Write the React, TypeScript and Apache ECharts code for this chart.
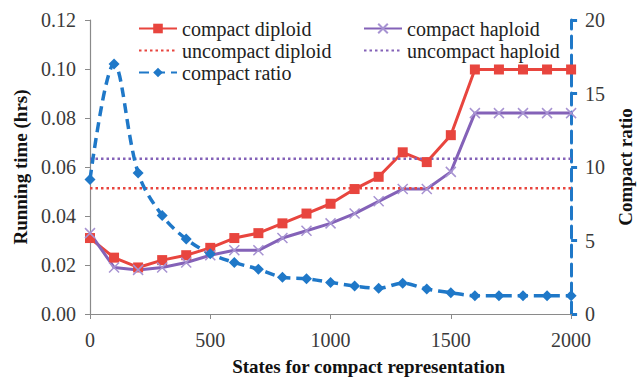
import React, { useEffect, useRef } from "react";
import * as echarts from "echarts";

const states = [0, 100, 200, 300, 400, 500, 600, 700, 800, 900, 1000, 1100, 1200, 1300, 1400, 1500, 1600, 1700, 1800, 1900, 2000];
const compactDiploid = [0.031, 0.023, 0.019, 0.022, 0.024, 0.027, 0.031, 0.033, 0.037, 0.041, 0.045, 0.051, 0.056, 0.066, 0.062, 0.073, 0.0998, 0.0998, 0.0998, 0.0998, 0.0998];
const compactHaploid = [0.033, 0.019, 0.018, 0.019, 0.021, 0.024, 0.026, 0.026, 0.031, 0.034, 0.037, 0.041, 0.046, 0.051, 0.051, 0.058, 0.082, 0.082, 0.082, 0.082, 0.082];
const compactRatio = [9.15, 17.0, 9.6, 6.7, 5.1, 4.1, 3.5, 3.05, 2.5, 2.4, 2.15, 1.9, 1.75, 2.1, 1.7, 1.45, 1.25, 1.25, 1.25, 1.25, 1.25];
const uncompactDiploid = 0.0513;
const uncompactHaploid = 0.0634;
const xRange = [0, 2000];

const RED = "#E8453E";
const PURPLE = "#8462B8";
const BLUE = "#1F78C8";
const FONT = "Liberation Serif";

export default function App() {
  const ref = useRef<HTMLDivElement>(null);
  useEffect(() => {
    const chart = echarts.init(ref.current!, null, { renderer: "svg" });
    const pair = (ys: number[]) => states.map((x, i) => [x, ys[i]]);
    const flat = (v: number) => xRange.map((x) => [x, v]);
    const axisLabel = { fontFamily: FONT, fontSize: 20, color: "#3a3a3a" };
    const titleStyle = { fontFamily: FONT, fontSize: 19, fontWeight: "bold" as const, color: "#111" };
    const legendText = { fontFamily: FONT, fontSize: 20, color: "#222", lineHeight: 21 };
    chart.setOption({
      animation: false,
      backgroundColor: "#fff",
      textStyle: { fontFamily: FONT },
      grid: { left: 90, right: 63, top: 20, bottom: 66 },
      legend: [
        {
          orient: "vertical",
          left: 133,
          top: 13,
          itemWidth: 38,
          itemHeight: 12,
          itemGap: 1,
          textStyle: legendText,
          data: ["compact diploid", "uncompact diploid", "compact ratio"],
        },
        {
          orient: "vertical",
          left: 358,
          top: 13,
          itemWidth: 38,
          itemHeight: 12,
          itemGap: 1,
          textStyle: legendText,
          data: ["compact haploid", "uncompact haploid"],
        },
      ],
      xAxis: {
        type: "value",
        min: 0,
        max: 2000,
        interval: 500,
        name: "States for compact representation",
        nameLocation: "middle",
        nameGap: 43,
        nameTextStyle: { ...titleStyle, padding: [0, 0, 0, 76] },
        axisLine: { lineStyle: { color: "#8a8a8a", width: 1.2 } },
        axisTick: { show: true, length: 5, lineStyle: { color: "#8a8a8a" } },
        axisLabel: { ...axisLabel, margin: 16, formatter: (v: number) => String(v) },
        splitLine: { show: false },
      },
      yAxis: [
        {
          type: "value",
          min: 0,
          max: 0.12,
          interval: 0.02,
          name: "Running time (hrs)",
          nameLocation: "middle",
          nameGap: 57,
          nameTextStyle: titleStyle,
          axisLine: { show: true, lineStyle: { color: "#8a8a8a", width: 1.2 } },
          axisTick: { show: true, length: 5, lineStyle: { color: "#8a8a8a" } },
          axisLabel: { ...axisLabel, margin: 14, formatter: (v: number) => v.toFixed(2) },
          splitLine: { show: false },
        },
        {
          type: "value",
          min: 0,
          max: 20,
          interval: 5,
          position: "right",
          name: "Compact ratio",
          nameLocation: "middle",
          nameGap: 40,
          nameRotate: 90,
          nameTextStyle: titleStyle,
          axisLine: { show: true, lineStyle: { color: BLUE, width: 3, type: [12, 7] } },
          axisTick: { show: true, length: 6, lineStyle: { color: BLUE, width: 3 } },
          axisLabel: { ...axisLabel, margin: 14 },
          splitLine: { show: false },
        },
      ],
      series: [
        {
          name: "compact diploid",
          type: "line",
          data: pair(compactDiploid),
          yAxisIndex: 0,
          symbol: "rect",
          symbolSize: 10,
          lineStyle: { color: RED, width: 3 },
          itemStyle: { color: RED },
        },
        {
          name: "compact haploid",
          type: "line",
          data: pair(compactHaploid),
          yAxisIndex: 0,
          symbol: "path://M0,0L10,10M10,0L0,10",
          symbolSize: 10,
          lineStyle: { color: PURPLE, width: 3 },
          itemStyle: { color: "transparent", borderColor: "#A793D2", borderWidth: 1.5 },
        },
        {
          name: "uncompact diploid",
          type: "line",
          data: flat(uncompactDiploid),
          yAxisIndex: 0,
          showSymbol: false,
          symbol: "none",
          lineStyle: { color: RED, width: 2.5, type: [2.5, 3] },
          itemStyle: { color: "transparent", borderColor: "transparent" },
        },
        {
          name: "uncompact haploid",
          type: "line",
          data: flat(uncompactHaploid),
          yAxisIndex: 0,
          showSymbol: false,
          symbol: "none",
          lineStyle: { color: PURPLE, width: 2.5, type: [2.5, 3] },
          itemStyle: { color: "transparent", borderColor: "transparent" },
        },
        {
          name: "compact ratio",
          type: "line",
          data: pair(compactRatio),
          yAxisIndex: 1,
          smooth: 0.35,
          symbol: "diamond",
          symbolSize: 11,
          lineStyle: { color: BLUE, width: 3.5, type: [10, 6] },
          itemStyle: { color: BLUE },
        },
      ],
    });
    return () => chart.dispose();
  }, []);
  return <div ref={ref} style={{ width: 643, height: 381, position: "absolute", left: 0, top: 0 }} />;
}
